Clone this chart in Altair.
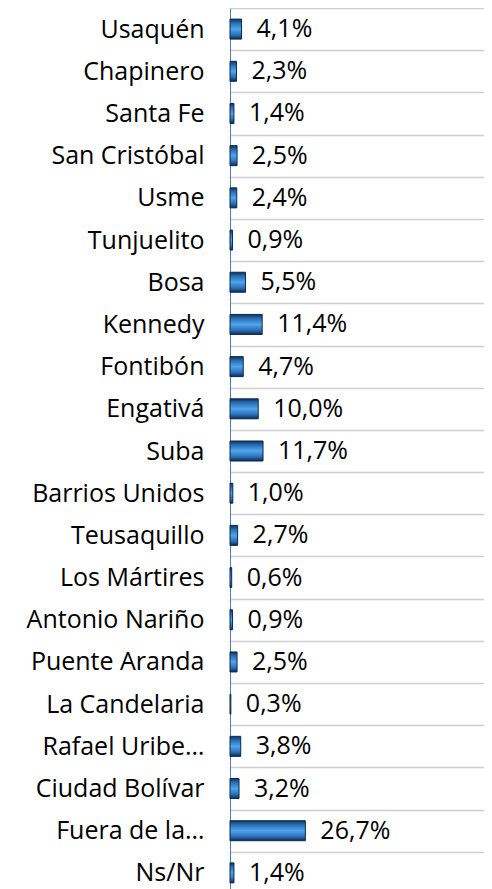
import altair as alt
import pandas as pd

categories = ["Usaquén", "Chapinero", "Santa Fe", "San Cristóbal", "Usme", "Tunjuelito",
              "Bosa", "Kennedy", "Fontibón", "Engativá", "Suba", "Barrios Unidos",
              "Teusaquillo", "Los Mártires", "Antonio Nariño", "Puente Aranda",
              "La Candelaria", "Rafael Uribe…", "Ciudad Bolívar", "Fuera de la…", "Ns/Nr"]
values = [4.1, 2.3, 1.4, 2.5, 2.4, 0.9, 5.5, 11.4, 4.7, 10.0, 11.7, 1.0,
          2.7, 0.6, 0.9, 2.5, 0.3, 3.8, 3.2, 26.7, 1.4]
labels = [f"{v:.1f}%".replace(".", ",") for v in values]

df = pd.DataFrame({"cat": categories, "val": values, "lab": labels})

FONT = "Open Sans"
FS = 25

grad = alt.Gradient(
    gradient="linear",
    stops=[
        alt.GradientStop(color="#0f325a", offset=0),
        alt.GradientStop(color="#2a6db6", offset=0.2),
        alt.GradientStop(color="#4ea6ec", offset=0.5),
        alt.GradientStop(color="#2a6db6", offset=0.8),
        alt.GradientStop(color="#0b2a4c", offset=1),
    ],
    x1=0, x2=0, y1=0, y2=1,
)

y_enc = alt.Y(
    "cat:N",
    sort=categories,
    scale=alt.Scale(paddingInner=0, paddingOuter=0),
    axis=alt.Axis(
        title=None, ticks=False, labelFont=FONT, labelFontSize=FS,
        labelColor="#000000", labelPadding=26, labelLimit=400,
        domainColor="#4a7ebb", domainWidth=1,
        grid=True, gridColor="#d0d0d0", gridWidth=1.5, tickBand="extent",
    ),
)
x_enc = alt.X("val:Q", scale=alt.Scale(domain=[0, 87.6]), axis=None)

bars = alt.Chart(df).mark_bar(color=grad, stroke="#0c2a4a", strokeWidth=1, size=20).encode(
    y=y_enc, x=x_enc
)
text = alt.Chart(df).mark_text(
    align="left", baseline="middle", dx=15, font=FONT, fontSize=FS, color="#000000"
).encode(y=alt.Y("cat:N", sort=categories), x="val:Q", text="lab:N")

chart = (bars + text).properties(
    width=254, height=886,
    autosize=alt.AutoSizeParams(type="none"),
    padding={"left": 222, "top": 0, "right": 0, "bottom": 0},
).configure_view(strokeWidth=0)

chart.save("out.html", embed_options={"renderer": "svg", "actions": False})
